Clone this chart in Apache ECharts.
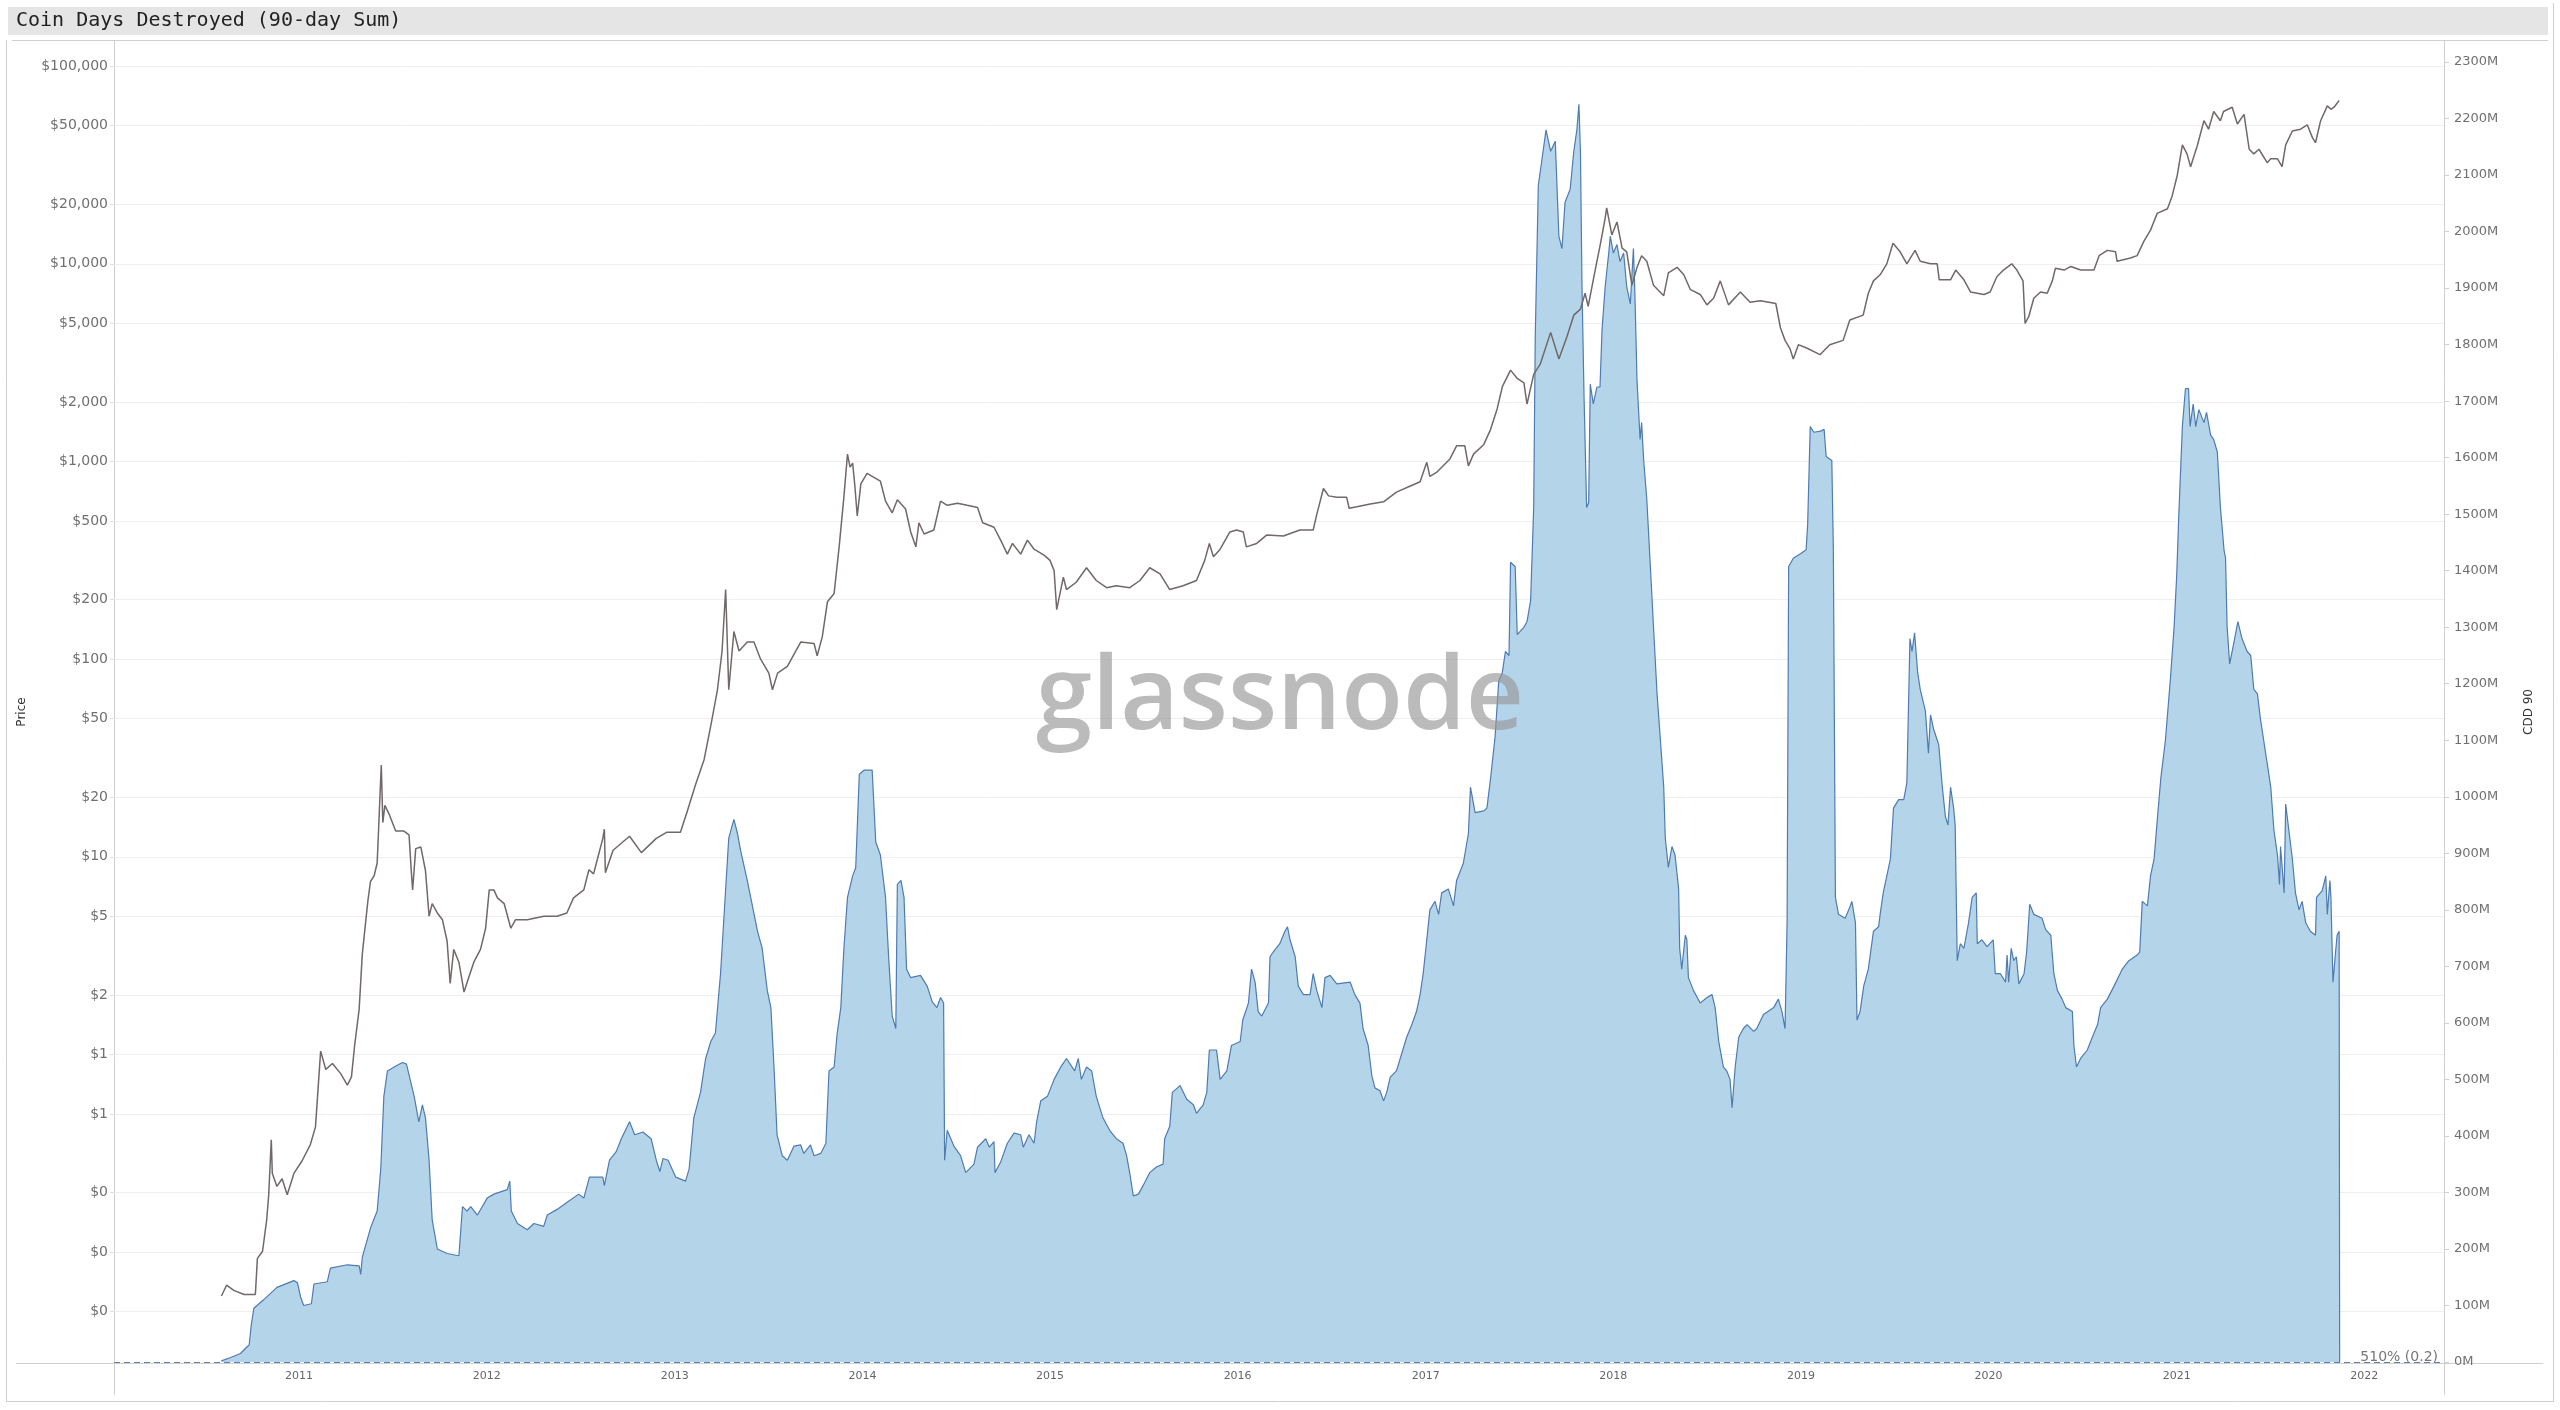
<!DOCTYPE html>
<html><head><meta charset="utf-8">
<script src="https://cdn.jsdelivr.net/npm/echarts@6/dist/echarts.min.js"></script>
<style>html,body{margin:0;padding:0;background:#fff}#c{width:2560px;height:1410px}</style>
</head><body><div id="c"></div>
<script>
const chartTitle = 'Coin Days Destroyed (90-day Sum)';
const watermark = 'glassnode';
const cornerNote = '510% (0.2)';

// CDD 90-day sum, millions of coin days
const cdd90 = [
['2010-08-03',2],['2010-08-21',8],['2010-09-09',15],['2010-09-22',27],['2010-09-26',30],['2010-09-30',65],['2010-10-05',95],['2010-10-24',110],['2010-11-19',132],['2010-12-22',144],['2010-12-29',140],
['2011-01-04',115],['2011-01-10',100],['2011-01-25',103],['2011-01-30',138],['2011-02-25',142],['2011-03-03',166],['2011-04-05',172],['2011-04-28',170],['2011-05-01',155],['2011-05-04',185],['2011-05-20',237],['2011-06-02',267],['2011-06-09',342],['2011-06-15',470],['2011-06-22',515],['2011-07-05',522],['2011-07-21',530],['2011-07-29',527],['2011-08-13',470],['2011-08-22',425],['2011-08-29',455],['2011-09-04',432],['2011-09-11',357],['2011-09-17',252],['2011-09-27',200],['2011-10-16',192],['2011-11-08',188],['2011-11-15',275],['2011-11-24',267],['2011-12-01',275],['2011-12-14',260],
['2012-01-02',290],['2012-01-15',297],['2012-02-10',305],['2012-02-15',320],['2012-02-18',267],['2012-03-01',245],['2012-03-20',234],['2012-04-02',245],['2012-04-21',240],['2012-04-28',260],['2012-05-17',270],['2012-06-05',282],['2012-06-28',297],['2012-07-08',290],['2012-07-19',327],['2012-08-14',327],['2012-08-17',312],['2012-08-27',357],['2012-09-09',372],['2012-09-19',395],['2012-10-05',425],['2012-10-15',402],['2012-10-31',407],['2012-11-16',395],['2012-11-26',357],['2012-12-03',337],['2012-12-09',360],['2012-12-19',357],
['2013-01-03',327],['2013-01-22',320],['2013-01-29',342],['2013-02-07',432],['2013-02-20',477],['2013-03-02',537],['2013-03-12',567],['2013-03-21',582],['2013-03-31',687],['2013-04-10',837],['2013-04-16',927],['2013-04-26',960],['2013-05-03',935],['2013-05-09',905],['2013-05-22',852],['2013-06-01',807],['2013-06-11',762],['2013-06-20',732],['2013-06-30',657],['2013-07-07',627],['2013-07-13',522],['2013-07-19',402],['2013-07-29',365],['2013-08-08',357],['2013-08-21',382],['2013-09-03',384],['2013-09-09',369],['2013-09-22',384],['2013-09-29',365],['2013-10-12',369],['2013-10-22',387],['2013-10-28',515],['2013-11-07',522],['2013-11-13',582],['2013-11-20',627],['2013-11-26',732],['2013-12-03',822],['2013-12-13',860],['2013-12-19',875],['2013-12-26',1040],
['2014-01-04',1047],['2014-01-20',1047],['2014-01-27',920],['2014-02-05',897],['2014-02-15',822],['2014-02-21',717],['2014-02-28',612],['2014-03-07',590],['2014-03-10',845],['2014-03-17',852],['2014-03-23',822],['2014-03-28',695],['2014-04-05',680],['2014-04-24',684],['2014-05-07',665],['2014-05-17',637],['2014-05-26',627],['2014-06-02',645],['2014-06-08',635],['2014-06-10',357],['2014-06-15',410],['2014-06-28',382],['2014-07-11',365],['2014-07-21',335],['2014-08-06',350],['2014-08-13',380],['2014-08-29',395],['2014-09-05',380],['2014-09-14',390],['2014-09-16',335],['2014-09-27',354],['2014-10-10',387],['2014-10-23',405],['2014-11-05',402],['2014-11-10',380],['2014-11-21',402],['2014-12-01',387],['2014-12-06',425],['2014-12-14',462],['2014-12-27',470],
['2015-01-09',500],['2015-01-22',522],['2015-02-02',537],['2015-02-18',515],['2015-02-25',537],['2015-03-03',500],['2015-03-13',522],['2015-03-23',515],['2015-04-01',470],['2015-04-14',432],['2015-04-27',410],['2015-05-10',395],['2015-05-23',387],['2015-05-30',365],['2015-06-05',335],['2015-06-12',294],['2015-06-22',297],['2015-07-01',312],['2015-07-14',335],['2015-07-27',345],['2015-08-09',350],['2015-08-12',395],['2015-08-22',417],['2015-08-27',477],['2015-09-11',489],['2015-09-24',465],['2015-10-07',455],['2015-10-13',440],['2015-10-26',455],['2015-11-02',477],['2015-11-07',552],['2015-11-21',552],['2015-11-28',500],['2015-12-11',515],['2015-12-20',560],
['2016-01-06',567],['2016-01-11',605],['2016-01-22',635],['2016-01-28',695],['2016-02-04',672],['2016-02-10',620],['2016-02-17',612],['2016-03-01',635],['2016-03-04',717],['2016-03-10',725],['2016-03-23',740],['2016-04-02',762],['2016-04-07',770],['2016-04-12',747],['2016-04-22',717],['2016-04-28',665],['2016-05-08',650],['2016-05-21',650],['2016-05-27',687],['2016-06-03',657],['2016-06-13',627],['2016-06-19',680],['2016-06-29',684],['2016-07-12',669],['2016-08-07',672],['2016-08-16',650],['2016-08-26',635],['2016-09-01',590],['2016-09-11',560],['2016-09-18',507],['2016-09-24',485],['2016-10-04',480],['2016-10-11',462],['2016-10-17',477],['2016-10-24',504],['2016-11-05',515],['2016-11-15',545],['2016-11-25',575],['2016-12-05',597],['2016-12-14',620],['2016-12-21',650],['2016-12-27',687],
['2017-01-03',747],['2017-01-09',800],['2017-01-19',815],['2017-01-26',792],['2017-02-01',830],['2017-02-14',837],['2017-02-24',807],['2017-03-02',852],['2017-03-15',882],['2017-03-25',935],['2017-03-29',1017],['2017-04-07',972],['2017-04-24',975],['2017-04-30',980],['2017-05-07',1032],['2017-05-16',1107],['2017-05-23',1205],['2017-05-30',1220],['2017-06-05',1257],['2017-06-12',1250],['2017-06-15',1415],['2017-06-24',1407],['2017-06-28',1287],['2017-07-11',1300],['2017-07-17',1310],['2017-07-24',1347],['2017-07-30',1512],['2017-08-02',1812],['2017-08-08',2082],['2017-08-15',2127],['2017-08-23',2180],['2017-09-01',2142],['2017-09-10',2160],['2017-09-17',1992],['2017-09-23',1970],['2017-09-29',2052],['2017-10-09',2075],['2017-10-16',2142],['2017-10-22',2180],['2017-10-26',2225],['2017-10-29',2140],['2017-11-01',1902],['2017-11-05',1707],['2017-11-10',1512],['2017-11-14',1520],['2017-11-17',1730],['2017-11-23',1695],['2017-11-30',1725],['2017-12-06',1725],['2017-12-10',1827],['2017-12-16',1902],['2017-12-23',1962],['2017-12-26',1992],
['2018-01-01',1962],['2018-01-08',1977],['2018-01-14',1947],['2018-01-21',1962],['2018-01-27',1902],['2018-02-03',1872],['2018-02-09',1970],['2018-02-12',1887],['2018-02-16',1737],['2018-02-22',1632],['2018-02-25',1662],['2018-03-01',1595],['2018-03-07',1527],['2018-03-14',1407],['2018-03-20',1302],['2018-03-27',1182],['2018-04-02',1107],['2018-04-09',1017],['2018-04-12',927],['2018-04-18',875],['2018-04-25',912],['2018-05-01',897],['2018-05-08',837],['2018-05-10',732],['2018-05-14',695],['2018-05-21',755],['2018-05-24',747],['2018-05-27',680],['2018-06-06',657],['2018-06-19',635],['2018-07-02',645],['2018-07-12',650],['2018-07-18',627],['2018-07-25',567],['2018-08-03',522],['2018-08-10',514],['2018-08-16',500],['2018-08-20',450],['2018-08-26',522],['2018-09-02',575],['2018-09-11',590],['2018-09-18',597],['2018-10-01',585],['2018-10-07',590],['2018-10-20',615],['2018-11-09',627],['2018-11-18',642],['2018-11-25',620],['2018-12-01',590],['2018-12-05',777],['2018-12-08',1407],['2018-12-17',1422],['2018-12-31',1430],
['2019-01-11',1437],['2019-01-14',1482],['2019-01-19',1655],['2019-01-26',1645],['2019-02-08',1647],['2019-02-15',1650],['2019-02-19',1602],['2019-03-02',1595],['2019-03-05',1437],['2019-03-09',822],['2019-03-15',792],['2019-03-28',785],['2019-04-07',807],['2019-04-10',815],['2019-04-17',777],['2019-04-20',605],['2019-04-26',620],['2019-05-03',665],['2019-05-12',695],['2019-05-22',762],['2019-06-01',770],['2019-06-04',792],['2019-06-10',830],['2019-06-17',860],['2019-06-24',890],['2019-06-30',980],['2019-07-10',995],['2019-07-20',995],['2019-07-26',1025],['2019-08-01',1280],['2019-08-05',1257],['2019-08-10',1290],['2019-08-16',1220],['2019-08-21',1190],['2019-08-31',1152],['2019-09-06',1077],['2019-09-10',1145],['2019-09-16',1120],['2019-09-26',1092],['2019-10-03',1017],['2019-10-09',965],['2019-10-14',950],['2019-10-19',1017],['2019-10-25',980],['2019-10-28',950],['2019-11-01',710],['2019-11-07',740],['2019-11-14',732],['2019-11-23',777],['2019-11-30',822],['2019-12-08',830],['2019-12-10',740],['2019-12-19',747],['2019-12-29',735],
['2020-01-10',747],['2020-01-14',687],['2020-01-24',687],['2020-02-03',672],['2020-02-06',720],['2020-02-09',672],['2020-02-14',732],['2020-02-19',710],['2020-02-24',717],['2020-02-29',669],['2020-03-10',687],['2020-03-15',725],['2020-03-21',810],['2020-03-29',792],['2020-04-14',785],['2020-04-21',765],['2020-05-01',755],['2020-05-07',687],['2020-05-14',657],['2020-05-23',642],['2020-05-30',627],['2020-06-12',620],['2020-06-15',560],['2020-06-20',522],['2020-06-28',537],['2020-07-11',552],['2020-07-21',575],['2020-07-31',597],['2020-08-06',627],['2020-08-19',642],['2020-09-01',665],['2020-09-17',695],['2020-09-30',710],['2020-10-16',720],['2020-10-21',725],['2020-10-26',815],['2020-11-05',807],['2020-11-11',860],['2020-11-18',890],['2020-11-24',957],['2020-12-01',1032],['2020-12-10',1100],['2020-12-20',1212],['2020-12-27',1302],
['2021-01-01',1392],['2021-01-05',1497],['2021-01-12',1655],['2021-01-18',1722],['2021-01-24',1722],['2021-01-27',1655],['2021-02-02',1695],['2021-02-07',1655],['2021-02-13',1685],['2021-02-23',1662],['2021-02-28',1680],['2021-03-08',1640],['2021-03-14',1632],['2021-03-21',1610],['2021-03-27',1512],['2021-04-03',1437],['2021-04-06',1422],['2021-04-09',1302],['2021-04-14',1235],['2021-04-22',1272],['2021-04-30',1310],['2021-05-08',1280],['2021-05-18',1257],['2021-05-25',1250],['2021-05-31',1190],['2021-06-07',1182],['2021-06-13',1137],['2021-06-23',1077],['2021-07-03',1017],['2021-07-09',942],['2021-07-16',897],['2021-07-20',845],['2021-07-22',912],['2021-07-29',830],['2021-08-01',987],['2021-08-07',942],['2021-08-14',890],['2021-08-20',830],['2021-08-27',800],['2021-09-02',815],['2021-09-09',777],['2021-09-18',762],['2021-09-28',755],['2021-09-30',822],['2021-10-11',834],['2021-10-18',860],['2021-10-21',792],['2021-10-26',852],['2021-10-28',822],['2021-11-01',672],['2021-11-06',725],['2021-11-09',755],['2021-11-13',762],['2021-11-14',0]
];

// BTC price, USD
const btcPrice = [
['2010-08-03',0.06],['2010-08-13',0.068],['2010-08-27',0.064],['2010-09-16',0.061],['2010-10-08',0.061],['2010-10-12',0.093],['2010-10-22',0.101],['2010-10-30',0.145],['2010-11-03',0.195],['2010-11-08',0.37],['2010-11-10',0.25],['2010-11-19',0.215],['2010-11-29',0.235],['2010-12-09',0.195],['2010-12-22',0.25],
['2011-01-07',0.29],['2011-01-23',0.35],['2011-02-02',0.43],['2011-02-07',0.67],['2011-02-12',1.04],['2011-02-22',0.84],['2011-03-07',0.9],['2011-03-23',0.8],['2011-04-05',0.7],['2011-04-13',0.77],['2011-04-19',1.1],['2011-04-28',1.7],['2011-05-04',3.2],['2011-05-11',4.8],['2011-05-15',6.0],['2011-05-20',7.5],['2011-05-27',8.0],['2011-06-02',9.3],['2011-06-07',19],['2011-06-10',29.1],['2011-06-13',14.9],['2011-06-17',18.2],['2011-06-25',16.5],['2011-07-08',13.5],['2011-07-24',13.5],['2011-08-03',12.9],['2011-08-08',8.0],['2011-08-10',6.8],['2011-08-16',11],['2011-08-26',11.2],['2011-09-04',8.5],['2011-09-11',5.0],['2011-09-17',5.8],['2011-09-27',5.2],['2011-10-07',4.8],['2011-10-16',3.75],['2011-10-22',2.29],['2011-10-29',3.4],['2011-11-08',2.93],['2011-11-18',2.07],['2011-11-26',2.4],['2011-12-07',2.93],['2011-12-20',3.4],['2011-12-30',4.35],
['2012-01-06',6.8],['2012-01-15',6.8],['2012-01-22',6.2],['2012-02-04',5.8],['2012-02-17',4.35],['2012-02-26',4.8],['2012-03-20',4.8],['2012-04-21',5.0],['2012-05-17',5.0],['2012-06-05',5.2],['2012-06-18',6.2],['2012-07-08',6.8],['2012-07-18',8.6],['2012-07-27',8.2],['2012-08-01',9.2],['2012-08-14',12.4],['2012-08-17',13.8],['2012-08-19',8.3],['2012-09-03',10.8],['2012-10-05',12.7],['2012-10-28',10.5],['2012-11-26',12.4],['2012-12-16',13.3],
['2013-01-12',13.3],['2013-01-25',16.9],['2013-02-10',23],['2013-02-27',31],['2013-03-12',46],['2013-03-25',70],['2013-04-03',110],['2013-04-10',225],['2013-04-16',70],['2013-04-26',138],['2013-05-06',110],['2013-05-22',122],['2013-06-04',122],['2013-06-17',100],['2013-07-03',85],['2013-07-10',70],['2013-07-20',85],['2013-08-08',92],['2013-09-03',122],['2013-09-29',120],['2013-10-05',104],['2013-10-15',130],['2013-10-25',195],['2013-11-07',215],['2013-11-17',375],['2013-11-26',660],['2013-12-03',1090],['2013-12-08',936],['2013-12-13',982],['2013-12-17',770],['2013-12-22',530],['2013-12-29',770],
['2014-01-10',870],['2014-02-05',795],['2014-02-15',630],['2014-02-28',550],['2014-03-10',640],['2014-03-26',575],['2014-04-05',440],['2014-04-15',370],['2014-04-21',490],['2014-05-01',430],['2014-05-20',450],['2014-06-02',630],['2014-06-15',600],['2014-07-05',615],['2014-07-24',600],['2014-08-13',585],['2014-08-23',490],['2014-09-14',465],['2014-09-27',400],['2014-10-10',340],['2014-10-20',385],['2014-11-05',340],['2014-11-18',400],['2014-12-01',360],['2014-12-21',335],
['2015-01-01',316],['2015-01-09',280],['2015-01-14',178],['2015-01-27',260],['2015-02-02',225],['2015-02-21',245],['2015-03-13',290],['2015-04-01',250],['2015-04-21',230],['2015-05-10',235],['2015-06-05',230],['2015-06-25',250],['2015-07-14',290],['2015-08-03',270],['2015-08-22',225],['2015-09-17',235],['2015-10-13',250],['2015-10-29',316],['2015-11-07',385],['2015-11-15',330],['2015-11-28',360],['2015-12-17',440],['2015-12-30',450],
['2016-01-12',440],['2016-01-18',370],['2016-02-07',385],['2016-02-27',425],['2016-03-30',420],['2016-05-01',450],['2016-05-27',450],['2016-06-03',540],['2016-06-16',730],['2016-06-26',670],['2016-07-12',660],['2016-07-31',660],['2016-08-05',580],['2016-08-20',590],['2016-09-15',610],['2016-10-11',625],['2016-11-05',700],['2016-12-01',750],['2016-12-21',790],
['2017-01-03',990],['2017-01-09',840],['2017-01-22',880],['2017-02-17',1030],['2017-03-02',1200],['2017-03-18',1200],['2017-03-25',950],['2017-04-04',1090],['2017-04-24',1220],['2017-05-07',1450],['2017-05-20',1850],['2017-05-30',2390],['2017-06-15',2900],['2017-06-28',2630],['2017-07-11',2500],['2017-07-17',1950],['2017-07-30',2760],['2017-08-12',3120],['2017-09-01',4500],['2017-09-17',3300],['2017-10-03',4300],['2017-10-16',5500],['2017-10-29',5900],['2017-11-07',7100],['2017-11-13',6100],['2017-11-27',9400],['2017-12-07',12700],['2017-12-16',17000],['2017-12-19',19200],['2017-12-29',14000],
['2018-01-08',16300],['2018-01-18',12000],['2018-01-27',11500],['2018-02-06',7800],['2018-02-16',9600],['2018-02-25',11000],['2018-03-07',10300],['2018-03-20',7800],['2018-04-09',6900],['2018-04-18',9000],['2018-05-05',9600],['2018-05-18',8800],['2018-05-31',7400],['2018-06-19',7000],['2018-07-02',6200],['2018-07-15',6700],['2018-07-28',8200],['2018-08-13',6200],['2018-09-05',7200],['2018-09-24',6400],['2018-10-14',6500],['2018-11-13',6300],['2018-11-22',4750],['2018-12-01',4100],['2018-12-11',3700],['2018-12-17',3300],['2018-12-27',3900],
['2019-01-12',3750],['2019-02-07',3470],['2019-02-26',3900],['2019-03-24',4100],['2019-04-06',5200],['2019-05-02',5500],['2019-05-12',7100],['2019-05-22',8200],['2019-06-04',8800],['2019-06-17',10000],['2019-06-29',12700],['2019-07-13',11500],['2019-07-26',10000],['2019-08-11',11700],['2019-08-21',10300],['2019-09-10',10000],['2019-09-23',10000],['2019-09-27',8300],['2019-10-19',8300],['2019-10-29',9300],['2019-11-14',8300],['2019-11-27',7200],['2019-12-23',7000],
['2020-01-04',7200],['2020-01-17',8600],['2020-01-30',9300],['2020-02-15',10000],['2020-02-25',9300],['2020-03-08',8200],['2020-03-12',5000],['2020-03-19',5400],['2020-03-29',6700],['2020-04-11',7200],['2020-04-24',7100],['2020-05-04',8200],['2020-05-10',9500],['2020-05-27',9300],['2020-06-09',9700],['2020-06-28',9300],['2020-07-24',9300],['2020-08-03',11000],['2020-08-19',11700],['2020-09-04',11500],['2020-09-07',10300],['2020-10-03',10700],['2020-10-16',11000],['2020-10-29',13000],['2020-11-11',14800],['2020-11-24',18000],['2020-12-14',19000],['2020-12-23',22000],
['2021-01-02',28000],['2021-01-12',40000],['2021-01-21',36000],['2021-01-28',31000],['2021-02-10',39600],['2021-02-23',53000],['2021-03-04',48000],['2021-03-14',59000],['2021-03-27',53000],['2021-04-02',59000],['2021-04-19',62000],['2021-04-29',51000],['2021-05-12',57000],['2021-05-22',38000],['2021-05-31',36000],['2021-06-10',38000],['2021-06-26',32500],['2021-07-03',34000],['2021-07-16',34000],['2021-07-25',31000],['2021-08-01',40000],['2021-08-14',47000],['2021-08-30',48000],['2021-09-12',50500],['2021-09-22',43500],['2021-09-28',41000],['2021-10-08',53000],['2021-10-21',63000],['2021-10-28',60500],['2021-11-03',62000],['2021-11-13',67000]
];

const priceTicks = [0.05,0.1,0.2,0.5,1,2,5,10,20,50,100,200,500,1000,2000,5000,10000,20000,50000,100000];
const xRange = ['2010-01-06','2022-06-05'];
const priceRange = [0.0278, 105000];
const cddRange = [0, 2300];
const cddStep = 100;
const YEAR_MS = 365 * 24 * 3600 * 1000;

const FONT = '"DejaVu Sans", Verdana, sans-serif';
const chart = echarts.init(document.getElementById('c'), null, {renderer:'canvas'});

const lineStroke = '#cfcfcf';
function hLine(x1,x2,y){return {type:'line',shape:{x1:x1,y1:y,x2:x2,y2:y},style:{stroke:lineStroke,lineWidth:1},silent:true};}
function vLine(x,y1,y2){return {type:'line',shape:{x1:x,y1:y1,x2:x,y2:y2},style:{stroke:lineStroke,lineWidth:1},silent:true};}

const option = {
  animation:false,
  backgroundColor:'#ffffff',
  grid:{left:114,right:116,top:62,bottom:48},
  xAxis:{
    type:'time', min:xRange[0], max:xRange[1],
    minInterval:YEAR_MS, maxInterval:YEAR_MS * 1.01,
    axisLine:{show:false}, axisTick:{show:false}, splitLine:{show:false},
    axisLabel:{formatter:function(v){return String(new Date(v).getFullYear());},
      showMinLabel:false, showMaxLabel:false,
      color:'#666', fontSize:11, fontFamily:FONT, margin:9}
  },
  yAxis:[
    {type:'log', logBase:10, min:priceRange[0], max:priceRange[1], position:'left',
     name:'Price', nameLocation:'middle', nameGap:86,
     nameTextStyle:{color:'#333', fontSize:12, fontFamily:FONT},
     axisLine:{show:false},
     axisTick:{show:true, customValues:priceTicks, length:4, lineStyle:{color:'#dddddd'}},
     axisLabel:{customValues:priceTicks, formatter:function(v){return '$'+Math.round(v).toLocaleString('en-US');},
       color:'#707070', fontSize:14, fontFamily:FONT, margin:6},
     splitLine:{show:true, lineStyle:{color:'#efefef', width:1}}},
    {type:'value', min:cddRange[0], max:cddRange[1], interval:cddStep, position:'right',
     name:'CDD 90', nameLocation:'middle', nameGap:79,
     nameTextStyle:{color:'#333', fontSize:12, fontFamily:FONT},
     axisLine:{show:false},
     axisTick:{show:true, length:5, lineStyle:{color:'#d0d0d0'}},
     axisLabel:{formatter:function(v){return v+'M';}, color:'#707070', fontSize:13, fontFamily:FONT, margin:10},
     splitLine:{show:false}}
  ],
  series:[
    {name:'CDD 90', type:'line', yAxisIndex:1, data:cdd90, showSymbol:false, symbol:'none',
     lineStyle:{color:'#4e7bb0', width:1.2}, areaStyle:{color:'#b4d4ea', opacity:1},
     z:2,
     markLine:{silent:true, symbol:'none', label:{show:false},
       lineStyle:{color:'#5a7fb0', type:[6,4], width:1.2},
       data:[{yAxis:0}]}},
    {name:'Price', type:'line', yAxisIndex:0, data:btcPrice, showSymbol:false, symbol:'none',
     lineStyle:{color:'#716868', width:1.5}, z:3}
  ],
  graphic:[
    {type:'rect', shape:{x:8,y:7,width:2540,height:28}, style:{fill:'#e5e5e5'}, silent:true, z:0},
    {type:'text', x:16, y:21, style:{text:chartTitle, font:'20px "DejaVu Sans Mono", monospace', fill:'#222', textVerticalAlign:'middle'}, silent:true, z:1},
    hLine(12,2548,40.5),
    vLine(6.5,40,1402),
    vLine(2553.5,3,1402),
    hLine(6,2553,1401.5),
    hLine(16,2543,1363.5),
    vLine(114.5,41,1395),
    vLine(2444.5,41,1395),
    {type:'text', x:2438, y:1357, style:{text:cornerNote, font:'14px '+FONT, fill:'#777', textAlign:'right', textVerticalAlign:'middle'}, silent:true, z:50},
    {type:'text', x:1280, y:700, style:{text:watermark, font:'600 101px "Open Sans", sans-serif', fill:'rgba(150,150,150,0.65)', textAlign:'center', textVerticalAlign:'middle'}, silent:true, z:100}
  ]
};
chart.setOption(option);
</script>
</body></html>
